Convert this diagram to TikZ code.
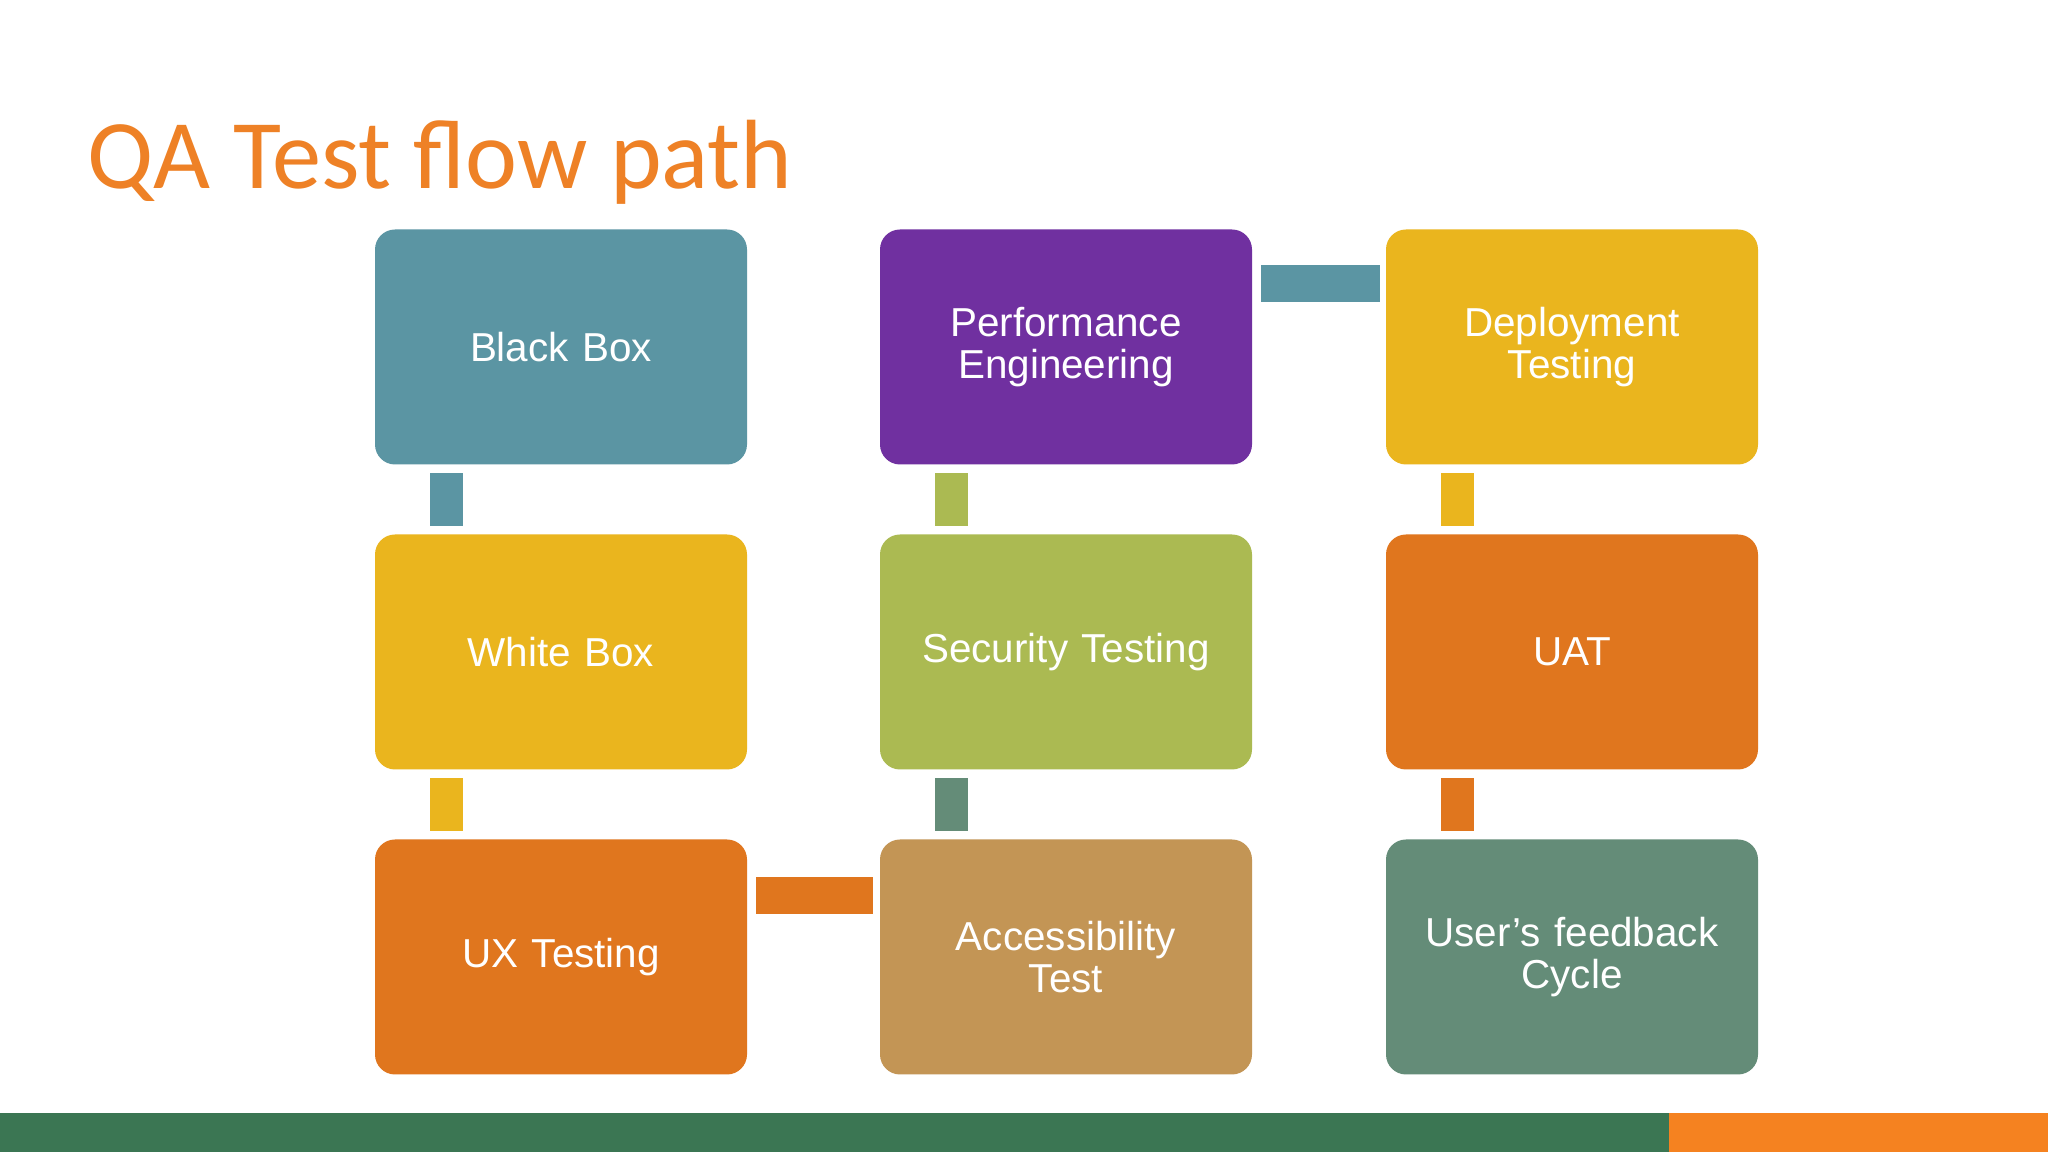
\documentclass[tikz,border=0pt]{standalone}
\usepackage{fontspec}
\setmainfont{Liberation Sans}
\newfontfamily\titlefont{Carlito}
\usetikzlibrary{positioning,calc}
\definecolor{tealbox}{HTML}{5B95A3}
\definecolor{purplebox}{HTML}{7030A0}
\definecolor{yellowbox}{HTML}{EAB51E}
\definecolor{limebox}{HTML}{ABBA52}
\definecolor{orangebox}{HTML}{E0761E}
\definecolor{tanbox}{HTML}{C39555}
\definecolor{greenbox}{HTML}{648C78}
\definecolor{titleorange}{HTML}{EE8126}
\definecolor{bargreen}{HTML}{3B7653}
\definecolor{barorange}{HTML}{F58220}
\tikzset{
    qastep/.style={rounded corners=0.2cm, minimum width=3.72cm, minimum height=2.35cm,
        text width=3.4cm, align=center, text=white, font=\fontsize{11.5}{12}\selectfont, inner sep=0pt},
}
\begin{document}
\begin{tikzpicture}
\useasboundingbox (0,0) rectangle (20.48,11.52);
\fill[white] (0,0) rectangle (20.48,11.52);

% bottom bar
\fill[bargreen] (0,0) rectangle (16.69,0.39);
\fill[barorange] (16.69,0) rectangle (20.48,0.39);

% title
\node[anchor=base west, inner sep=0pt, text=titleorange, font=\titlefont\fontsize{28}{30}\selectfont] (title) at (0.87,9.63) {QA Test flow path};

% steps
\node[qastep, fill=tealbox]   (bb)  at (5.61,8.05) {Black Box};
\node[qastep, fill=yellowbox] (wb)  at (5.61,5.00) {White Box};
\node[qastep, fill=orangebox] (ux)  at (5.61,1.95) {UX Testing};
\node[qastep, fill=tanbox]    (acc) at (10.66,1.95) {Accessibility\\Test};
\node[qastep, fill=limebox]   (sec) at (10.66,5.00) {Security Testing};
\node[qastep, fill=purplebox] (perf) at (10.66,8.05) {Performance\\Engineering};
\node[qastep, fill=yellowbox] (dep) at (15.72,8.05) {Deployment\\Testing};
\node[qastep, fill=orangebox] (uat) at (15.72,5.00) {UAT};
\node[qastep, fill=greenbox]  (fb)  at (15.72,1.95) {User’s feedback\\Cycle};

% links
\fill[tealbox]   ($(bb.south west)+(0.56,-0.08)$) rectangle ++(0.33,-0.53);
\fill[yellowbox] ($(wb.south west)+(0.56,-0.08)$) rectangle ++(0.33,-0.53);
\fill[orangebox] ($(ux.north east)+(0.08,-0.38)$) rectangle ++(1.17,-0.37);
\fill[greenbox]  ($(sec.south west)+(0.56,-0.08)$) rectangle ++(0.33,-0.53);
\fill[limebox]   ($(perf.south west)+(0.56,-0.08)$) rectangle ++(0.33,-0.53);
\fill[tealbox]   ($(perf.north east)+(0.08,-0.36)$) rectangle ++(1.19,-0.37);
\fill[yellowbox] ($(dep.south west)+(0.56,-0.08)$) rectangle ++(0.33,-0.53);
\fill[orangebox] ($(uat.south west)+(0.56,-0.08)$) rectangle ++(0.33,-0.53);

\end{tikzpicture}
\end{document}
